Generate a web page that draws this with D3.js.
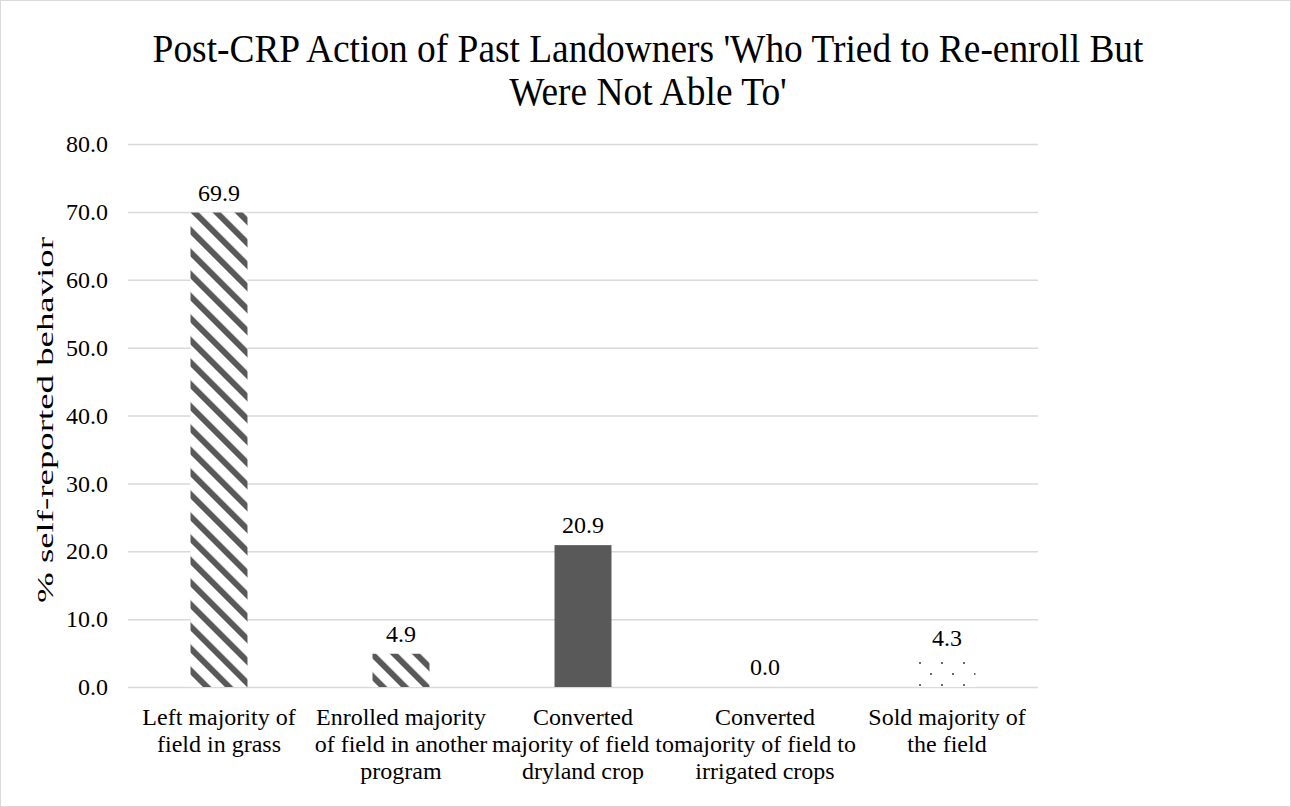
<!DOCTYPE html>
<html>
<head>
<meta charset="utf-8">
<script src="https://cdn.jsdelivr.net/npm/d3@7"></script>
<style>
  body { margin: 0; background: #fff; }
  svg { display: block; }
  text { font-family: "Liberation Serif", "Times New Roman", serif; fill: #000; }
</style>
</head>
<body>
<div id="chart"></div>
<script>
// data
var categories = ['Left', 'Enrolled', 'Dryland', 'Irrigated', 'Sold'];
var labelLines = [
  ['Left majority of', 'field in grass'],
  ['Enrolled majority', 'of field in another', 'program'],
  ['Converted', 'majority of field to', 'dryland crop'],
  ['Converted', 'majority of field to', 'irrigated crops'],
  ['Sold majority of', 'the field']
];
var values = [69.9, 4.9, 20.9, 0.0, 4.3];
var yTicks = [0, 10, 20, 30, 40, 50, 60, 70, 80];
var titleLines = ["Post-CRP Action of Past Landowners 'Who Tried to Re-enroll But", "Were Not Able To'"];
var yTitle = '% self-reported behavior';

// bar fill styles, one per bar
var barFill = ['url(#wideDiag)', 'url(#wideDiag)', '#595959', '#595959', 'url(#dots)'];

var chart_width = 1291;
var chart_height = 807;
var dark = '#595959';

var svg = d3
  .select('#chart')
  .append('svg')
  .attr('width', chart_width)
  .attr('height', chart_height);

// patterns
var defs = svg.append('defs');
var diag = defs.append('pattern')
  .attr('id', 'wideDiag')
  .attr('patternUnits', 'userSpaceOnUse')
  .attr('width', 15.56)
  .attr('height', 10)
  .attr('patternTransform', 'rotate(-45)');
diag.append('rect').attr('width', 15.56).attr('height', 10).attr('fill', '#fff');
diag.append('rect').attr('width', 6).attr('height', 10).attr('fill', dark);

var dots = defs.append('pattern')
  .attr('id', 'dots')
  .attr('patternUnits', 'userSpaceOnUse')
  .attr('x', 17)
  .attr('y', 2)
  .attr('width', 22)
  .attr('height', 22);
dots.append('rect').attr('width', 22).attr('height', 22).attr('fill', '#fff');
dots.append('rect').attr('x', 0).attr('y', 0).attr('width', 2).attr('height', 2).attr('fill', '#6a6a6a');
dots.append('rect').attr('x', 11).attr('y', 11).attr('width', 2).attr('height', 2).attr('fill', '#6a6a6a');

// outer border
svg.append('rect')
  .attr('x', 0.5).attr('y', 0.5)
  .attr('width', chart_width - 1).attr('height', chart_height - 1)
  .attr('fill', 'none').attr('stroke', '#d9d9d9');

// scales
var x_scale = d3.scaleBand()
  .domain(categories)
  .range([128, 1038])
  .paddingInner(0.687)
  .paddingOuter(0.3435);
var y_scale = d3.scaleLinear()
  .domain([0, 80])
  .range([687, 144]);

// gridlines
var grid = svg.append('g')
  .attr('transform', 'translate(128,0)')
  .call(d3.axisLeft(y_scale).tickValues(yTicks).tickSize(-910).tickFormat(''));
grid.select('.domain').remove();
grid.selectAll('line').attr('stroke', '#d9d9d9').attr('stroke-width', 1.5);

// y tick labels
var yAxis = svg.append('g')
  .attr('transform', 'translate(128,0)')
  .call(d3.axisLeft(y_scale).tickValues(yTicks).tickSize(0).tickPadding(20).tickFormat(d3.format('.1f')));
yAxis.select('.domain').remove();
yAxis.attr('font-size', null).attr('font-family', null);
yAxis.selectAll('text').style('font-size', '24px').attr('fill', '#000');

// bars
svg.selectAll('rect.bar')
  .data(values)
  .enter()
  .append('rect')
  .attr('class', 'bar')
  .attr('x', function(d, i) { return x_scale(categories[i]); })
  .attr('y', function(d) { return y_scale(d); })
  .attr('width', x_scale.bandwidth())
  .attr('height', function(d) { return y_scale(0) - y_scale(d); })
  .attr('fill', function(d, i) { return barFill[i]; });

// data labels
svg.selectAll('text.val')
  .data(values)
  .enter()
  .append('text')
  .attr('class', 'val')
  .attr('x', function(d, i) { return x_scale(categories[i]) + x_scale.bandwidth() / 2; })
  .attr('y', function(d) { return y_scale(d) - 12; })
  .attr('text-anchor', 'middle')
  .style('font-size', '24px')
  .text(function(d) { return d3.format('.1f')(d); });

// x category labels
var xAxis = svg.append('g');
labelLines.forEach(function(lines, i) {
  var t = xAxis.append('text')
    .attr('text-anchor', 'middle')
    .style('font-size', '24px');
  lines.forEach(function(line, j) {
    t.append('tspan')
      .attr('x', x_scale(categories[i]) + x_scale.bandwidth() / 2)
      .attr('y', 725 + j * 27)
      .text(line);
  });
});

// title
svg.selectAll('text.title')
  .data(titleLines)
  .enter()
  .append('text')
  .attr('class', 'title')
  .attr('text-anchor', 'middle')
  .attr('transform', function(d, i) { return 'translate(648,' + (62 + i * 43) + ') scale(1,1.05)'; })
  .style('font-size', '37.4px')
  .text(function(d) { return d; });

// y axis title
svg.append('text')
  .attr('transform', 'translate(53,420) rotate(-90)')
  .attr('text-anchor', 'middle')
  .style('font-size', '23px')
  .attr('textLength', 366)
  .attr('lengthAdjust', 'spacingAndGlyphs')
  .text(yTitle);
</script>
</body>
</html>
